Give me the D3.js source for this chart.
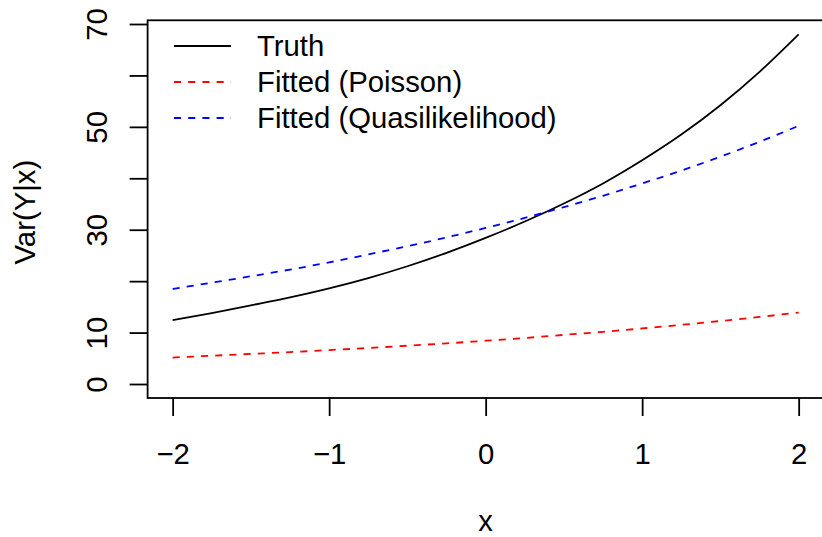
<!DOCTYPE html>
<html>
<head>
<meta charset="utf-8">
<script src="https://cdn.jsdelivr.net/npm/d3@7"></script>
<style>
  html, body { margin: 0; padding: 0; background: #fff; }
  svg { display: block; }
  text { font-family: "Liberation Sans", Arial, Helvetica, sans-serif; }
</style>
</head>
<body>
<svg id="chart" width="822" height="537"></svg>
<script>
// Variance of Y given x: true curve and two fitted versions
const xValues = [-2, -1.75, -1.5, -1.25, -1, -0.75, -0.5, -0.25, 0, 0.25, 0.5, 0.75, 1, 1.25, 1.5, 1.75, 2];
const truthVar = [12.4, 13.8, 15.3, 16.85, 18.6, 20.6, 22.9, 25.5, 28.4, 31.6, 35.1, 39.0, 43.5, 48.5, 54.2, 60.7, 68.0];
const poissonVar = [5.15, 5.5, 5.85, 6.2, 6.6, 7.0, 7.45, 7.9, 8.42, 8.95, 9.55, 10.15, 10.8, 11.5, 12.25, 13.05, 13.9];
const quasiVar = [18.5, 19.7, 20.95, 22.25, 23.65, 25.2, 26.8, 28.5, 30.35, 32.3, 34.4, 36.6, 39.0, 41.5, 44.2, 47.1, 50.2];

const xTicks = [-2, -1, 0, 1, 2];
const yTicks = [0, 10, 20, 30, 40, 50, 60, 70];
const yTickLabels = [0, 10, 30, 50, 70];

const seriesNames = ["Truth", "Fitted (Poisson)", "Fitted (Quasilikelihood)"];
const seriesColors = ["#000000", "#ff0000", "#0000ff"];
const seriesDash = [null, "7.1,7.1", "7.1,7.1"];

const svg = d3.select("#chart");
const fontSize = 29.3;
const lw = 1.8;

// plot region with 4% padding on each axis range
const xLim = [-2, 2], yLim = [0, 68];
const pad = (l) => [l[0] - 0.04 * (l[1] - l[0]), l[1] + 0.04 * (l[1] - l[0])];
const plot = { left: 147.6, right: 823.7, top: 20.3, bottom: 398 };

const x = d3.scaleLinear().domain(pad(xLim)).range([plot.left, plot.right]);
const y = d3.scaleLinear().domain(pad(yLim)).range([plot.bottom, plot.top]);

const fmt = d3.format("");

// x axis
const xAxis = svg.append("g")
  .attr("transform", `translate(0,${plot.bottom})`)
  .call(d3.axisBottom(x).tickValues(xTicks).tickSize(18).tickSizeOuter(0).tickPadding(0).tickFormat(fmt));
xAxis.select(".domain").remove();
xAxis.selectAll(".tick line").attr("stroke", "#000").attr("stroke-width", lw);
xAxis.selectAll(".tick text")
  .attr("y", 0).attr("dy", null)
  .attr("transform", "translate(0,66)")
  .attr("font-size", fontSize).attr("fill", "#000")
  .attr("font-family", "Liberation Sans, Arial, sans-serif");

// y axis: tick marks everywhere, labels only where they fit
const yAxis = svg.append("g")
  .attr("transform", `translate(${plot.left},0)`)
  .call(d3.axisLeft(y).tickValues(yTicks).tickSize(18).tickSizeOuter(0).tickFormat(fmt));
yAxis.select(".domain").remove();
yAxis.selectAll(".tick line").attr("stroke", "#000").attr("stroke-width", lw);
yAxis.selectAll(".tick text").remove();
yAxis.selectAll(".tick")
  .filter(d => yTickLabels.includes(d))
  .append("text")
  .attr("transform", "translate(-41,0) rotate(-90)")
  .attr("text-anchor", "middle")
  .attr("font-size", fontSize).attr("fill", "#000")
  .attr("font-family", "Liberation Sans, Arial, sans-serif")
  .text(d => fmt(d));

// frame
svg.append("rect")
  .attr("x", plot.left).attr("y", plot.top)
  .attr("width", plot.right - plot.left).attr("height", plot.bottom - plot.top)
  .attr("fill", "none").attr("stroke", "#000").attr("stroke-width", lw);

// axis titles
svg.append("text")
  .attr("x", x(0)).attr("y", 531)
  .attr("text-anchor", "middle").attr("font-size", fontSize)
  .text("x");
svg.append("text")
  .attr("transform", `translate(35,${(y(0) + y(68)) / 2 + 3}) rotate(-90)`)
  .attr("text-anchor", "middle").attr("font-size", fontSize)
  .text("Var(Y|x)");

// curves
const seriesData = [truthVar, poissonVar, quasiVar];
const line = d3.line()
  .x(d => x(d[0]))
  .y(d => y(d[1]))
  .curve(d3.curveMonotoneX);

seriesData.forEach((vals, i) => {
  svg.append("path")
    .datum(xValues.map((xv, j) => [xv, vals[j]]))
    .attr("d", line)
    .attr("fill", "none")
    .attr("stroke", seriesColors[i])
    .attr("stroke-width", lw)
    .attr("stroke-dasharray", seriesDash[i]);
});

// legend
const legend = svg.append("g");
seriesNames.forEach((name, i) => {
  const cy = 46 + i * 36;
  legend.append("line")
    .attr("x1", 174).attr("x2", 231)
    .attr("y1", cy).attr("y2", cy)
    .attr("stroke", seriesColors[i])
    .attr("stroke-width", lw)
    .attr("stroke-dasharray", seriesDash[i]);
  legend.append("text")
    .attr("x", 257).attr("y", cy + 10)
    .attr("font-size", fontSize)
    .text(name);
});
</script>
</body>
</html>
